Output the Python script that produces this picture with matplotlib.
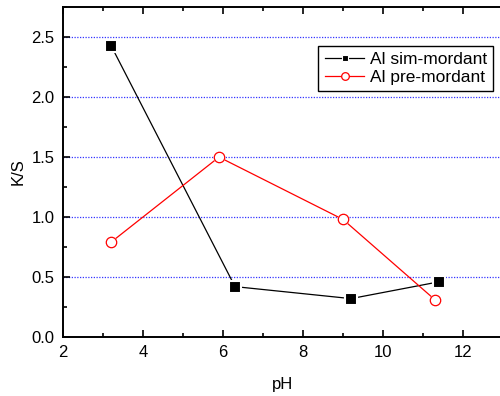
import matplotlib
matplotlib.use("Agg")
import matplotlib.pyplot as plt
from matplotlib.ticker import MultipleLocator, FormatStrFormatter

plt.rcParams['font.family'] = ['Liberation Sans', 'DejaVu Sans']

ph_sim = [3.2, 6.3, 9.2, 11.4]
ks_sim = [2.43, 0.42, 0.32, 0.46]
ph_pre = [3.2, 5.9, 9.0, 11.3]
ks_pre = [0.79, 1.50, 0.98, 0.31]
grid_levels = [0.5, 1.0, 1.5, 2.0, 2.5]

fig = plt.figure(figsize=(5, 3.96), dpi=100)
ax = fig.add_axes([0.126, 0.149, 0.88, 0.833])

for y in grid_levels:
    ax.axhline(y, color='#3535ff', lw=0.9, ls=(0, (1, 1.2)), zorder=0)

ax.plot(ph_sim, ks_sim, color='black', lw=0.9, marker='s', ms=8,
        mfc='black', mec='white', mew=1.5)
ax.plot(ph_pre, ks_pre, color='red', lw=0.9, marker='o', ms=8.5,
        mfc='white', mec='white', mew=0)
# open circles with a small gap to the line
ax.plot(ph_pre, ks_pre, ls='none', marker='o', ms=7.5,
        mfc='none', mec='red', mew=0.9)

ax.set_xlim(2, 13)
ax.set_ylim(0, 2.75)
ax.xaxis.set_major_locator(MultipleLocator(2))
ax.xaxis.set_minor_locator(MultipleLocator(1))
ax.yaxis.set_major_locator(MultipleLocator(0.5))
ax.yaxis.set_minor_locator(MultipleLocator(0.25))
ax.yaxis.set_major_formatter(FormatStrFormatter('%.1f'))
ax.tick_params(which='both', direction='in', top=True, right=False,
               labelsize=12, width=1.2)
ax.tick_params(which='major', length=5, pad=6)
ax.tick_params(which='minor', length=3)
for s in ax.spines.values():
    s.set_linewidth(1.4)

ax.set_xlabel('pH', fontsize=12, labelpad=12)
ax.set_ylabel('K/S', fontsize=12, labelpad=4)

# legend drawn with proxy handles (small markers like the original)
h1, = ax.plot([], [], color='black', lw=0.9, marker='s', ms=4.5, mfc='black',
              mec='white', mew=0.8)
h2, = ax.plot([], [], color='red', lw=0.9, marker='o', ms=5.5, mfc='white',
              mec='red', mew=0.9)
leg = ax.legend([h1, h2], ['Al sim-mordant', 'Al pre-mordant'],
                loc='upper right', bbox_to_anchor=(0.977, 0.883), fontsize=12.5,
                frameon=True, fancybox=False, edgecolor='black', framealpha=1,
                handlelength=2.3, borderpad=0.35, labelspacing=0.15,
                handletextpad=0.3, borderaxespad=0)
leg.get_frame().set_linewidth(1.0)

fig.savefig('out.png', dpi=100)
